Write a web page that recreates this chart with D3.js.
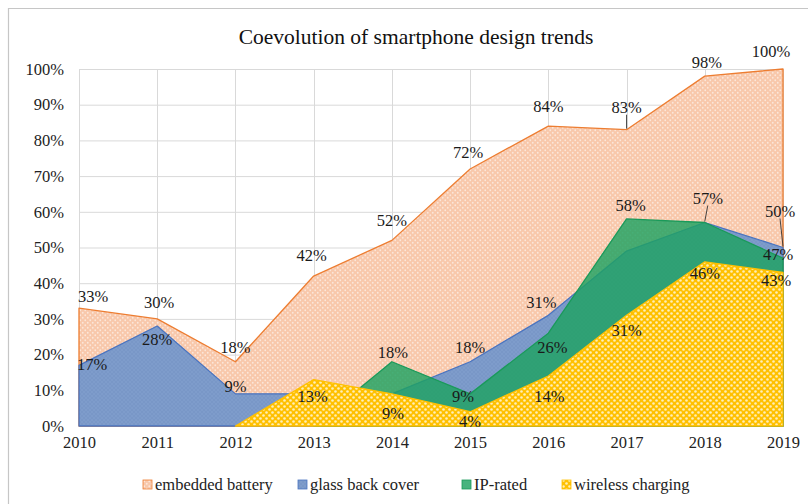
<!DOCTYPE html>
<html>
<head>
<meta charset="utf-8">
<script src="https://cdn.jsdelivr.net/npm/d3@7"></script>
<style>
  html, body { margin: 0; padding: 0; background: #fff; }
  svg text { font-family: "Liberation Serif", "Times New Roman", serif; }
</style>
</head>
<body>
<div id="chart"></div>
<script>
// data (percent)
const years = [2010, 2011, 2012, 2013, 2014, 2015, 2016, 2017, 2018, 2019];
const embeddedBattery = [33, 30, 18, 42, 52, 72, 84, 83, 98, 100];
const glassBackCover = [17, 28, 9, 9, 9, 18, 31, 49, 57, 50];
const ipRated = [0, 0, 0, 0, 18, 9, 26, 58, 57, 47];
const wirelessCharging = [0, 0, 0, 13, 9, 4, 14, 31, 46, 43];
const yTicks = [0, 10, 20, 30, 40, 50, 60, 70, 80, 90, 100];

const series = [
    { name: "embedded battery", values: embeddedBattery, fill: "url(#patBattery)", stroke: "#ed7d31", opacity: 1 },
    { name: "glass back cover", values: glassBackCover, fill: "url(#patGlass)", stroke: "#4a74c0", opacity: 1 },
    { name: "IP-rated", values: ipRated, fill: "#1ea262", stroke: "#1a9a5a", opacity: 0.82 },
    { name: "wireless charging", values: wirelessCharging, fill: "url(#patWireless)", stroke: "#ffc000", opacity: 1 }
];

// label nudges [dx, dy, leader] keyed by series index and year; missing = no label
const labelNudge = {
    0: { 2010: [14, -12], 2011: [2, -17], 2012: [0, -15], 2013: [-2, -21], 2014: [0, -20],
         2015: [-2, -17], 2016: [0, -20], 2017: [0, -22, true], 2018: [2, -14], 2019: [-12, -18] },
    1: { 2010: [13, -1], 2011: [0, 13], 2012: [0, -8], 2015: [0, -15], 2016: [-7, -13],
         2018: [3, -24, true], 2019: [-3, -36, true] },
    2: { 2014: [1, -10], 2015: [-7, 2], 2016: [4, 14], 2017: [4, -14], 2019: [-5, -4] },
    3: { 2013: [-1, 17], 2014: [1, 19], 2015: [0, 10], 2016: [1, 20], 2017: [0, 15],
         2018: [0, 11], 2019: [-7, 8] }
};

const serif = "'Liberation Serif', 'Times New Roman', serif";
const fontSize = 16.5;

const W = 808, H = 504;
const margin = { top: 69, right: 25, bottom: 78, left: 79 };
const width = W - margin.left - margin.right,
    height = H - margin.top - margin.bottom;

const svg = d3.select("#chart").append("svg")
    .attr("width", W)
    .attr("height", H)
    .style("display", "block");

// patterns
const defs = svg.append("defs");
function dotPattern(id, base, dot, size, r, op) {
    const p = defs.append("pattern")
        .attr("id", id)
        .attr("patternUnits", "userSpaceOnUse")
        .attr("width", size).attr("height", size);
    p.append("rect").attr("width", size).attr("height", size).attr("fill", base);
    p.append("circle").attr("cx", size / 4).attr("cy", size / 4).attr("r", r)
        .attr("fill", dot).attr("opacity", op);
    p.append("circle").attr("cx", size * 3 / 4).attr("cy", size * 3 / 4).attr("r", r)
        .attr("fill", dot).attr("opacity", op);
}
dotPattern("patBattery", "#f8c8ab", "#ffffff", 5, 0.9, 0.55);
dotPattern("patGlass", "#7e9ccb", "#6f8fc2", 4, 0.8, 0.8);
dotPattern("patWireless", "#ffc000", "#fff4cc", 6, 1.3, 0.9);

// outer frame (cut off at right/bottom)
svg.append("path")
    .attr("d", "M8.5,504 L8.5,8.5 L808,8.5")
    .attr("fill", "none")
    .attr("stroke", "#c6c6c6")
    .attr("stroke-width", 1.2);

svg.append("text")
    .attr("x", 416).attr("y", 44)
    .attr("text-anchor", "middle")
    .style("font-family", serif)
    .attr("font-size", 21.5)
    .attr("fill", "#111")
    .text("Coevolution of smartphone design trends");

const g = svg.append("g")
    .attr("transform", "translate(" + margin.left + "," + margin.top + ")");

const x = d3.scalePoint().domain(years).range([0, width]);
const y = d3.scaleLinear().domain([0, 100]).range([height, 0]);

// grid
g.append("g")
    .selectAll("line")
    .data(yTicks.slice(1))
    .join("line")
    .attr("x1", 0).attr("x2", width)
    .attr("y1", d => y(d) + 0.5).attr("y2", d => y(d) + 0.5)
    .attr("stroke", "#d9d9d9");
g.append("g")
    .selectAll("line")
    .data(years)
    .join("line")
    .attr("x1", d => Math.round(x(d)) + 0.5).attr("x2", d => Math.round(x(d)) + 0.5)
    .attr("y1", 0).attr("y2", height)
    .attr("stroke", "#d9d9d9");

// axes
const yAxis = g.append("g")
    .call(d3.axisLeft(y).tickValues(yTicks).tickFormat(d => d + "%").tickSize(0).tickPadding(15));
yAxis.attr("font-family", null);
yAxis.select(".domain").remove();
yAxis.selectAll("text")
    .style("font-family", serif)
    .attr("font-size", fontSize)
    .attr("fill", "#222");

const xAxis = g.append("g")
    .attr("transform", "translate(0," + height + ")")
    .call(d3.axisBottom(x).tickSize(0).tickPadding(10));
xAxis.attr("font-family", null);
xAxis.select(".domain").attr("stroke", "#d9d9d9");
xAxis.selectAll("text")
    .style("font-family", serif)
    .attr("font-size", fontSize)
    .attr("fill", "#222");

// areas, drawn from zero, overlapping in series order
// leading zeros are not drawn (series starts where it starts rising)
function startIndex(values) {
    const first = values.findIndex(v => v > 0);
    return Math.max(0, first - 1);
}

g.selectAll(".area")
    .data(series)
    .join("path")
    .attr("class", "area")
    .attr("d", d => {
        const s = startIndex(d.values);
        return d3.area()
            .defined((v, i) => i >= s)
            .x((v, i) => x(years[i]))
            .y0(y(0))
            .y1(v => y(v))(d.values);
    })
    .attr("fill", d => d.fill)
    .attr("fill-opacity", d => d.opacity)
    .attr("stroke", d => d.stroke)
    .attr("stroke-width", 1.3)
    .attr("stroke-linejoin", "round");

// data labels
series.forEach((s, si) => {
    const nudge = labelNudge[si];
    years.forEach((yr, i) => {
        const n = nudge[yr];
        if (!n) return;
        const px = x(yr), py = y(s.values[i]);
        const lx = px + n[0], ly = py + n[1];
        if (n[2]) {
            g.append("line")
                .attr("x1", lx).attr("y1", ly + 7)
                .attr("x2", px).attr("y2", py - 1)
                .attr("stroke", "#333").attr("stroke-width", 0.9);
        }
        g.append("text")
            .attr("x", lx).attr("y", ly)
            .attr("dy", "0.35em")
            .attr("text-anchor", "middle")
            .style("font-family", serif)
            .attr("font-size", fontSize)
            .attr("fill", "#1a1a1a")
            .text(s.values[i] + "%");
    });
});

// legend
const legendX = [143, 298, 462, 562];
const legend = svg.append("g").attr("transform", "translate(0,485)");
const item = legend.selectAll("g")
    .data(series)
    .join("g")
    .attr("transform", (d, i) => "translate(" + legendX[i] + ",0)");
item.append("rect")
    .attr("x", 0).attr("y", -5)
    .attr("width", 9).attr("height", 9)
    .attr("fill", d => d.fill)
    .attr("fill-opacity", d => d.opacity)
    .attr("stroke", d => d.stroke)
    .attr("stroke-width", 0.8);
item.append("text")
    .attr("x", 12).attr("y", 0)
    .attr("dy", "0.33em")
    .style("font-family", serif)
    .attr("font-size", fontSize)
    .attr("fill", "#222")
    .text(d => d.name);
</script>
</body>
</html>
